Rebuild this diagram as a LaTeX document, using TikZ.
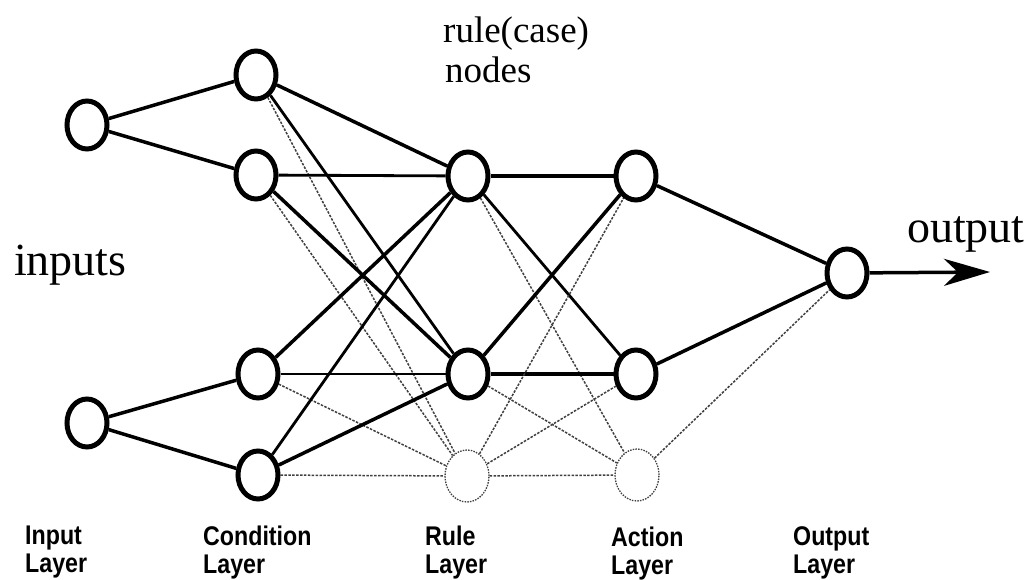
\documentclass[tikz,border=0pt]{standalone}
\usepackage{fontspec}
\setmainfont{Liberation Serif}
\newfontfamily\labfont[FakeStretch=0.86]{Liberation Sans}
\usetikzlibrary{arrows.meta,shapes.geometric,backgrounds}

\begin{document}
\begin{tikzpicture}[x=1pt,y=-1pt,
  unit/.style={ellipse, draw, fill=white, line width=5pt, minimum width=40pt, minimum height=48pt, inner sep=0pt},
  ghost/.style={ellipse, draw=black!75, fill=white, line width=1.3pt, dash pattern=on 1.5pt off 1.2pt, minimum width=44pt, minimum height=52pt, inner sep=0pt},
  strong/.style={line width=3.5pt},
  link/.style={line width=2.8pt},
  faint/.style={line width=1.5pt, draw=black!75, dash pattern=on 2.5pt off 1.4pt},
  title/.style={font=\fontsize{37}{40}\selectfont, inner sep=0pt, anchor=base west},
  big/.style={font=\fontsize{46}{50}\selectfont, inner sep=0pt, anchor=base west},
  lab/.style={font=\labfont\bfseries\fontsize{27}{28}\selectfont, align=left, inner sep=0pt, anchor=north west}]

\useasboundingbox (0,0) rectangle (1028,580);

% input layer
\node[unit] (i1) at (87,125) {};
\node[unit] (i2) at (87,423) {};
% condition layer
\node[unit] (c1) at (256,75) {};
\node[unit] (c2) at (256,175) {};
\node[unit] (c3) at (258,374) {};
\node[unit] (c4) at (258,475) {};
% rule layer
\node[unit] (r1) at (468,176) {};
\node[unit] (r2) at (468,374) {};
\node[ghost] (r3) at (467,476) {};
% action layer
\node[unit] (a1) at (636,176) {};
\node[unit] (a2) at (636,374) {};
\node[ghost] (a3) at (637,475) {};
% output layer
\node[unit] (o) at (847,273) {};
\coordinate (tip) at (990,272);

\begin{scope}[on background layer]
% input -> condition
\draw[strong] (i1) -- (c1);
\draw[strong] (i1) -- (c2);
\draw[strong] (i2) -- (c3);
\draw[strong] (i2) -- (c4);
% condition -> rule
\draw[strong] (c1) -- (r1);
\draw[link]   (c1) -- (r2);
\draw[faint]  (c1) -- (r3);
\draw[link]   (c2) -- (r1);
\draw[strong] (c2) -- (r2);
\draw[faint]  (c2) -- (r3);
\draw[strong] (c3) -- (r1);
\draw[link]   (c3) -- (r2);
\draw[faint]  (c3) -- (r3);
\draw[link]   (c4) -- (r1);
\draw[strong] (c4) -- (r2);
\draw[faint]  (c4) -- (r3);
% rule -> action
\draw[strong] (r1) -- (a1);
\draw[link]   (r1) -- (a2);
\draw[faint]  (r1) -- (a3);
\draw[strong] (r2) -- (a1);
\draw[strong] (r2) -- (a2);
\draw[faint]  (r2) -- (a3);
\draw[faint]  (r3) -- (a1);
\draw[faint]  (r3) -- (a2);
\draw[faint]  (r3) -- (a3);
% action -> output
\draw[strong] (a1) -- (o);
\draw[strong] (a2) -- (o);
\draw[faint]  (a3) -- (o);
\end{scope}
\draw[strong, -{Stealth[length=46pt, width=27pt, inset=14pt]}] (o) -- (tip);

% texts
\node[title] (t1) at (443,43) {rule(case)};
\node[title] (t2) at (445,83) {nodes};
\node[big] (tin) at (14,275) {inputs};
\node[big] (tout) at (907,243) {output};

\node[lab] (l1) at (25,526) {Input\\Layer};
\node[lab] (l2) at (203,526) {Condition\\Layer};
\node[lab] (l3) at (425,526) {Rule\\Layer};
\node[lab] (l4) at (611,527) {Action\\Layer};
\node[lab] (l5) at (793,526) {Output\\Layer};
\end{tikzpicture}
\end{document}
